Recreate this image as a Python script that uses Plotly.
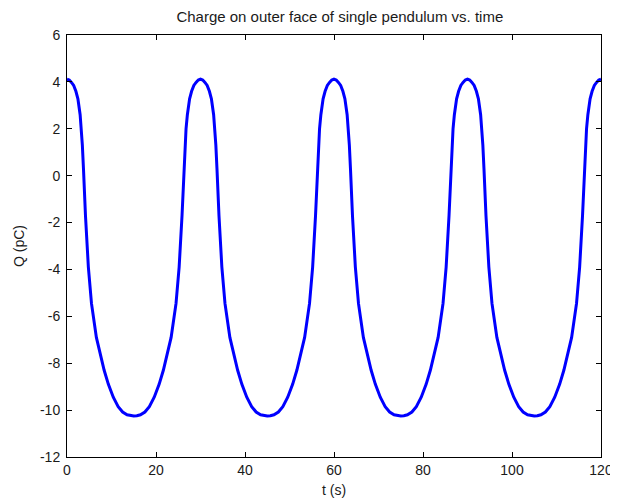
import plotly.graph_objects as go

# charge on the outer face (4 periods of ~30 s)
t_s = [0, 0.5, 1, 1.5, 2, 2.45, 2.95, 3.25, 3.45, 3.7, 3.9, 4.15, 4.8, 5.5, 6.6, 7.4, 8.35, 9.3, 10.4, 11.5, 12.5, 13.5, 14.3, 15,
       15.7, 16.5, 17.5, 18.5, 19.6, 20.7, 21.65, 22.6, 23.4, 24.5, 25.2, 25.85, 26.1, 26.3, 26.55, 26.75, 27.05, 27.55, 28, 28.5, 29, 29.5,
       30, 30.5, 31, 31.5, 32, 32.45, 32.95, 33.25, 33.45, 33.7, 33.9, 34.15, 34.8, 35.5, 36.6, 37.4, 38.35, 39.3, 40.4, 41.5, 42.5, 43.5, 44.3, 45,
       45.7, 46.5, 47.5, 48.5, 49.6, 50.7, 51.65, 52.6, 53.4, 54.5, 55.2, 55.85, 56.1, 56.3, 56.55, 56.75, 57.05, 57.55, 58, 58.5, 59, 59.5,
       60, 60.5, 61, 61.5, 62, 62.45, 62.95, 63.25, 63.45, 63.7, 63.9, 64.15, 64.8, 65.5, 66.6, 67.4, 68.35, 69.3, 70.4, 71.5, 72.5, 73.5, 74.3, 75,
       75.7, 76.5, 77.5, 78.5, 79.6, 80.7, 81.65, 82.6, 83.4, 84.5, 85.2, 85.85, 86.1, 86.3, 86.55, 86.75, 87.05, 87.55, 88, 88.5, 89, 89.5,
       90, 90.5, 91, 91.5, 92, 92.45, 92.95, 93.25, 93.45, 93.7, 93.9, 94.15, 94.8, 95.5, 96.6, 97.4, 98.35, 99.3, 100.4, 101.5, 102.5, 103.5, 104.3, 105,
       105.7, 106.5, 107.5, 108.5, 109.6, 110.7, 111.65, 112.6, 113.4, 114.5, 115.2, 115.85, 116.1, 116.3, 116.55, 116.75, 117.05, 117.55, 118, 118.5, 119, 119.5,
       120]

q_pc = [4.12, 4.08, 3.98, 3.85, 3.6, 3.28, 2.6, 2.0, 1.3, 0.3, -0.7, -1.7, -3.9, -5.45, -6.9, -7.6, -8.3, -8.9, -9.45, -9.85, -10.08, -10.2, -10.24, -10.25,
        -10.24, -10.2, -10.08, -9.85, -9.45, -8.9, -8.3, -7.6, -6.9, -5.45, -3.9, -1.7, -0.7, 0.3, 1.3, 2.0, 2.6, 3.28, 3.6, 3.85, 3.98, 4.08,
        4.12, 4.08, 3.98, 3.85, 3.6, 3.28, 2.6, 2.0, 1.3, 0.3, -0.7, -1.7, -3.9, -5.45, -6.9, -7.6, -8.3, -8.9, -9.45, -9.85, -10.08, -10.2, -10.24, -10.25,
        -10.24, -10.2, -10.08, -9.85, -9.45, -8.9, -8.3, -7.6, -6.9, -5.45, -3.9, -1.7, -0.7, 0.3, 1.3, 2.0, 2.6, 3.28, 3.6, 3.85, 3.98, 4.08,
        4.12, 4.08, 3.98, 3.85, 3.6, 3.28, 2.6, 2.0, 1.3, 0.3, -0.7, -1.7, -3.9, -5.45, -6.9, -7.6, -8.3, -8.9, -9.45, -9.85, -10.08, -10.2, -10.24, -10.25,
        -10.24, -10.2, -10.08, -9.85, -9.45, -8.9, -8.3, -7.6, -6.9, -5.45, -3.9, -1.7, -0.7, 0.3, 1.3, 2.0, 2.6, 3.28, 3.6, 3.85, 3.98, 4.08,
        4.12, 4.08, 3.98, 3.85, 3.6, 3.28, 2.6, 2.0, 1.3, 0.3, -0.7, -1.7, -3.9, -5.45, -6.9, -7.6, -8.3, -8.9, -9.45, -9.85, -10.08, -10.2, -10.24, -10.25,
        -10.24, -10.2, -10.08, -9.85, -9.45, -8.9, -8.3, -7.6, -6.9, -5.45, -3.9, -1.7, -0.7, 0.3, 1.3, 2.0, 2.6, 3.28, 3.6, 3.85, 3.98, 4.08,
        4.12]

# tick labels (hyphen minus, like matlab)
x_ticks = [0, 20, 40, 60, 80, 100, 120]
y_ticks = [-12, -10, -8, -6, -4, -2, 0, 2, 4, 6]
y_ticktext = ['-12', '-10', '-8', '-6', '-4', '-2', '0', '2', '4', '6']

font = 'Liberation Sans, Arial, sans-serif'
txt = '#1a1a1a'

fig = go.Figure()
fig.add_trace(go.Scatter(x=t_s, y=q_pc, mode='lines',
                         line=dict(color='#0000ff', width=3),
                         showlegend=False, hoverinfo='skip'))

axis_style = dict(showgrid=False, zeroline=False, showline=True, linecolor='black', linewidth=1,
                  mirror='ticks', ticks='inside', ticklen=5, tickcolor='black', tickwidth=1,
                  automargin=False, tickfont=dict(family=font, size=14, color=txt))

fig.update_xaxes(range=[0, 120], tickvals=x_ticks, ticktext=[str(v) for v in x_ticks],
                 title=dict(text='t (s)', font=dict(family=font, size=14, color=txt), standoff=8),
                 **axis_style)
fig.update_yaxes(range=[-12, 6], tickvals=y_ticks, ticktext=y_ticktext, ticklabelstandoff=3,
                 title=dict(text='Q (pC)', font=dict(family=font, size=14, color=txt), standoff=12),
                 **axis_style)

# page body has an 8px margin, so the figure is sized/offset for that
fig.update_layout(
    width=610, height=496,
    margin=dict(l=59, r=17, t=27, b=47),
    paper_bgcolor='white', plot_bgcolor='white',
    title=dict(text='Charge on outer face of single pendulum vs. time', x=0.544, xanchor='center',
               y=0.982, yanchor='middle', font=dict(family=font, size=15, color=txt)),
)

fig.write_html("out.html")
